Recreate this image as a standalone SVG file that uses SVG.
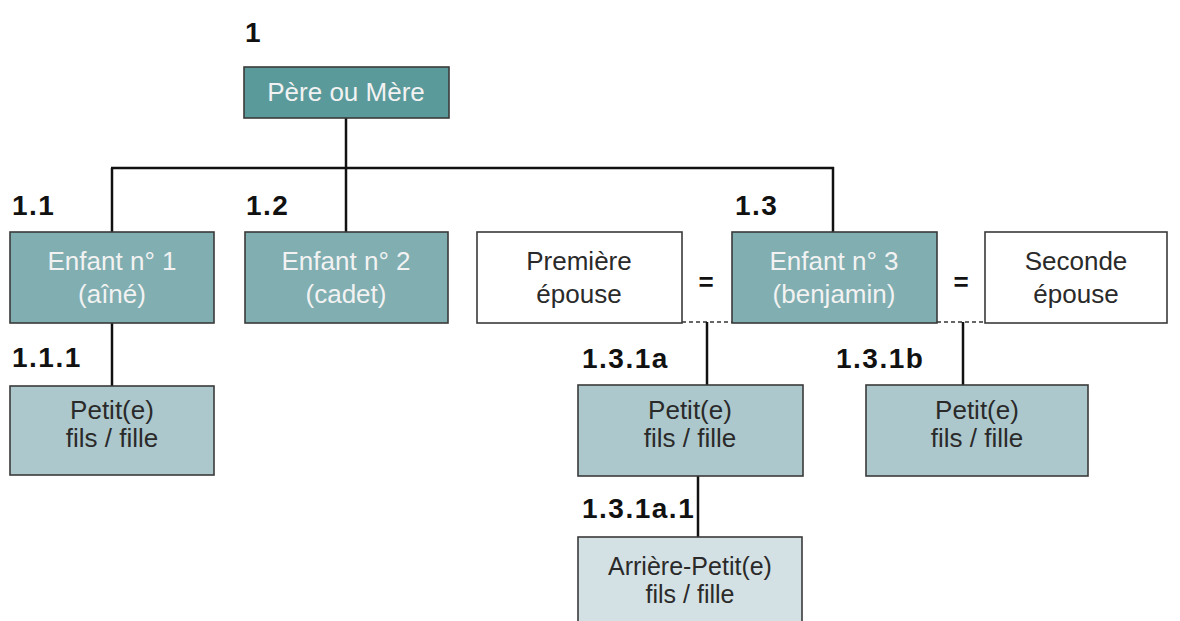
<svg xmlns="http://www.w3.org/2000/svg" width="1180" height="621" viewBox="0 0 1180 621">
<style>
.box{stroke:#3a3a3a;stroke-width:1.6}
.p{fill:#5a9a9b}
.e{fill:#80aeb1}
.g{fill:#adc8cc}
.a{fill:#d4e1e4}
.w{fill:#ffffff}
.t{font-family:"Liberation Sans",Arial,sans-serif;font-size:26px;text-anchor:middle}
.sm{font-size:25px}
.tl{fill:#f2f2f2}
.td{fill:#2a2a2a}
.lb{font-family:"Liberation Sans",Arial,sans-serif;font-size:28px;font-weight:bold;fill:#111;letter-spacing:1.5px}
.eq{font-family:"Liberation Sans",Arial,sans-serif;font-size:26px;font-weight:bold;fill:#111;text-anchor:middle}
.c{stroke:#111;stroke-width:2.5;fill:none}
.d{stroke:#666;stroke-width:2;stroke-dasharray:4 3;fill:none}
</style>
<rect width="1180" height="621" fill="#ffffff"/>
<g id="connectors">
<line class="c" x1="346" y1="118" x2="346" y2="168"/>
<line class="c" x1="111" y1="168" x2="834" y2="168"/>
<line class="c" x1="112" y1="168" x2="112" y2="232"/>
<line class="c" x1="346" y1="168" x2="346" y2="232"/>
<line class="c" x1="833" y1="167" x2="833" y2="232"/>
<line class="c" x1="112" y1="323" x2="112" y2="386"/>
<line class="d" x1="682" y1="322" x2="732" y2="322"/>
<line class="d" x1="937" y1="322" x2="985" y2="322"/>
<line class="c" x1="707" y1="322" x2="707" y2="385"/>
<line class="c" x1="963" y1="322" x2="963" y2="385"/>
<line class="c" x1="698" y1="476" x2="698" y2="537"/>
</g>
<g id="n1">
<text class="lb" x="245" y="42">1</text>
<rect class="box p" x="244" y="67" width="205" height="51"/>
<text class="t tl" x="346" y="101">Père ou Mère</text>
</g>
<g id="n1-1">
<text class="lb" x="12" y="215">1.1</text>
<rect class="box e" x="10" y="232" width="204" height="91"/>
<text class="t tl" x="112" y="270">Enfant n° 1</text>
<text class="t tl" x="112" y="303">(aîné)</text>
</g>
<g id="n1-2">
<text class="lb" x="246" y="215">1.2</text>
<rect class="box e" x="245" y="232" width="203" height="91"/>
<text class="t tl" x="346" y="270">Enfant n° 2</text>
<text class="t tl" x="346" y="303">(cadet)</text>
</g>
<g id="premiere">
<rect class="box w" x="477" y="232" width="205" height="91"/>
<text class="t td" x="579" y="270">Première</text>
<text class="t td" x="579" y="303">épouse</text>
</g>
<g id="eq1"><text class="eq" x="706" y="291">=</text></g>
<g id="n1-3">
<text class="lb" x="735" y="215">1.3</text>
<rect class="box e" x="732" y="232" width="205" height="91"/>
<text class="t tl" x="834" y="270">Enfant n° 3</text>
<text class="t tl" x="834" y="303">(benjamin)</text>
</g>
<g id="eq2"><text class="eq" x="961" y="291">=</text></g>
<g id="seconde">
<rect class="box w" x="985" y="232" width="182" height="91"/>
<text class="t td" x="1076" y="270">Seconde</text>
<text class="t td" x="1076" y="303">épouse</text>
</g>
<g id="n1-1-1">
<text class="lb" x="12" y="367">1.1.1</text>
<rect class="box g" x="10" y="386" width="204" height="89"/>
<text class="t td" x="112" y="419">Petit(e)</text>
<text class="t td" x="112" y="447">fils / fille</text>
</g>
<g id="n1-3-1a">
<text class="lb" x="582" y="368">1.3.1a</text>
<rect class="box g" x="578" y="385" width="225" height="91"/>
<text class="t td" x="690" y="419">Petit(e)</text>
<text class="t td" x="690" y="447">fils / fille</text>
</g>
<g id="n1-3-1b">
<text class="lb" x="836" y="368">1.3.1b</text>
<rect class="box g" x="866" y="385" width="222" height="91"/>
<text class="t td" x="977" y="419">Petit(e)</text>
<text class="t td" x="977" y="447">fils / fille</text>
</g>
<g id="n1-3-1a-1">
<text class="lb" x="582" y="518">1.3.1a.1</text>
<rect class="box a" x="578" y="537" width="224" height="95"/>
<text class="t td sm" x="690" y="575">Arrière-Petit(e)</text>
<text class="t td sm" x="690" y="603">fils / fille</text>
</g>
</svg>
